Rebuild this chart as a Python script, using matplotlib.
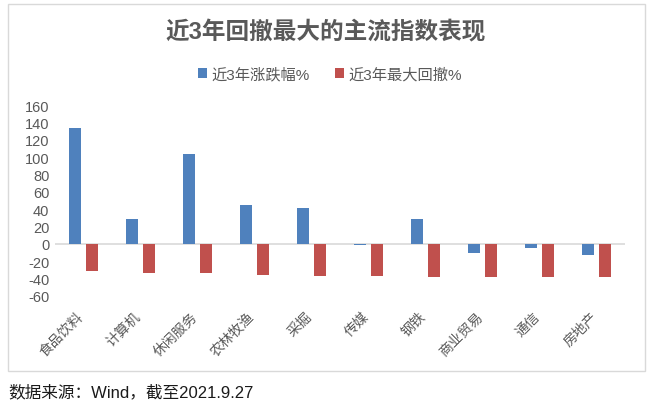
import matplotlib
matplotlib.use("Agg")
import matplotlib.pyplot as plt
import matplotlib.transforms as mtransforms
import numpy as np
from matplotlib.patches import Rectangle

plt.rcParams['font.family'] = ['Liberation Sans', 'Noto Sans CJK SC']
plt.rcParams['axes.unicode_minus'] = False

categories = ["食品饮料", "计算机", "休闲服务", "农林牧渔", "采掘", "传媒", "钢铁", "商业贸易", "通信", "房地产"]
rise_3y = [133, 29, 103, 45, 41, -1.6, 29, -11, -4.3, -12.3]
max_drawdown = [-31.6, -33.1, -33.1, -35.4, -36.5, -36.5, -37.7, -37.7, -37.7, -37.7]
series_names = ["近3年涨跌幅%", "近3年最大回撤%"]
yticks = [-60, -40, -20, 0, 20, 40, 60, 80, 100, 120, 140, 160]

blue = "#4F81BD"
red = "#C0504D"
gray_txt = "#595959"

fig = plt.figure(figsize=(6.53, 4.10), dpi=100)
ax = fig.add_axes([55/653, 1-297/410, 570/653, (297-106)/410])

x = np.arange(len(categories))
w = 0.22
ax.bar(x - 0.15, rise_3y, width=w, color=blue, label=series_names[0], zorder=2)
ax.bar(x + 0.15, max_drawdown, width=w, color=red, label=series_names[1], zorder=2)

ax.set_xlim(-0.5, len(categories) - 0.5)
ax.set_ylim(-60, 160)
ax.set_yticks(yticks)
ax.set_yticklabels([str(v) for v in yticks], fontsize=10.5, color=gray_txt)
ax.axhline(0, color="#D9D9D9", lw=1.2, zorder=1)
ax.set_xticks(x)
ax.set_xticklabels(categories, rotation=45, ha='right', va='center', rotation_mode='anchor',
                   fontsize=10, color=gray_txt)
ax.tick_params(axis='both', length=0, pad=4)
ax.tick_params(axis='x', pad=13)
offset = mtransforms.ScaledTranslation(-2/100, 0, fig.dpi_scale_trans)
for lbl in ax.get_xticklabels():
    lbl.set_transform(lbl.get_transform() + offset)
for s in ax.spines.values():
    s.set_visible(False)

# chart border
fig.patches.append(Rectangle((8/653, 1-372/410), (645-8)/653, (372-5)/410,
                             transform=fig.transFigure, fill=False, edgecolor="#D9D9D9", lw=1))

fig.text(326/653, 1-33/410, "近3年回撤最大的主流指数表现", ha='center', va='center',
         fontsize=17, fontweight='bold', color=gray_txt)

leg = fig.legend(loc='center', bbox_to_anchor=(330/653, 1-75/410), ncol=2, frameon=False,
                 fontsize=11, handlelength=0.6, handleheight=0.6, handletextpad=0.3,
                 columnspacing=1.6, labelcolor=gray_txt)

fig.text(8/653, 1-392/410, "数据来源：Wind，截至2021.9.27", ha='left', va='center',
         fontsize=12, color="#1a1a1a")

fig.savefig("out.png", dpi=100)
